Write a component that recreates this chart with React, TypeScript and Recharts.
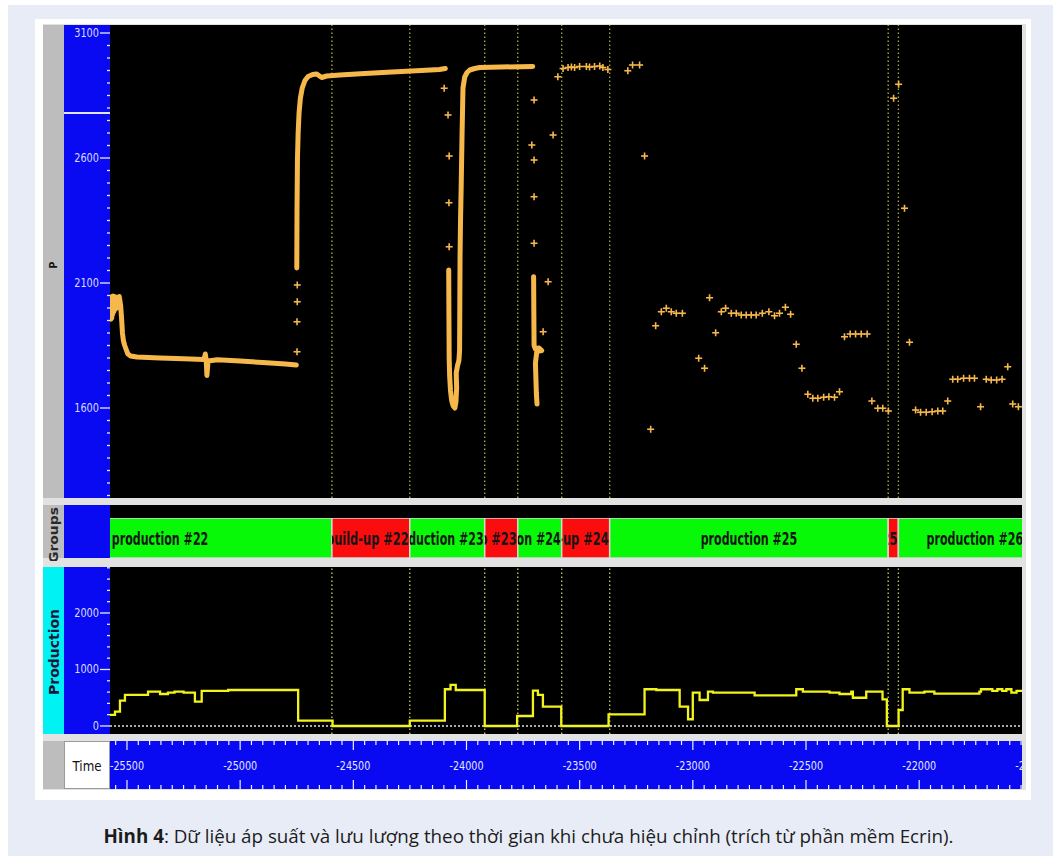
import React from 'react';
import {
  ComposedChart,
  Line,
  Scatter,
  XAxis,
  YAxis,
  ReferenceLine,
  ReferenceArea
} from 'recharts';

// visible time window (hours, relative)
const T_MIN = -25575;
const T_MAX = -21547;
const TIME_EXT = -21400;

const NARROW = "'Liberation Sans Narrow', 'DejaVu Sans Condensed', 'Liberation Sans', 'DejaVu Sans', sans-serif";
const ORANGE = '#f6b84a';
const BLUE = '#0a0af2';

// pressure gauge, densely sampled stretches [t, p]
const pressureProd22 = [
  [-25571, 1955], [-25569, 2044], [-25567, 1960], [-25565, 2046], [-25563, 1975],
  [-25561, 2048], [-25558, 1985], [-25555, 2046], [-25552, 1995], [-25549, 2044],
  [-25546, 2000], [-25543, 2042], [-25540, 2036], [-25534, 2046], [-25528, 2010],
  [-25524, 1960], [-25520, 1900], [-25516, 1870], [-25510, 1850], [-25504, 1835],
  [-25496, 1816], [-25484, 1808], [-25456, 1804], [-25354, 1800], [-25250, 1797],
  [-25160, 1794], [-25154, 1816], [-25150, 1792], [-25147, 1730], [-25142, 1788],
  [-25100, 1793], [-25000, 1788], [-24900, 1782], [-24800, 1776], [-24752, 1772]
];
const pressureBuild22 = [
  [-24750, 2160], [-24749, 2400], [-24747, 2600], [-24744, 2700], [-24740, 2780],
  [-24734, 2840], [-24726, 2880], [-24714, 2910], [-24700, 2926], [-24680, 2934],
  [-24662, 2936], [-24640, 2922], [-24618, 2928], [-24560, 2932], [-24450, 2938],
  [-24330, 2944], [-24200, 2950], [-24120, 2954], [-24094, 2958]
];
const pressureProd23 = [
  [-24079, 2152], [-24078, 1960], [-24077, 1800], [-24075, 1730], [-24071, 1668],
  [-24066, 1630], [-24059, 1608], [-24052, 1600], [-24047, 1625], [-24044, 1680],
  [-24046, 1740], [-24040, 1770], [-24034, 1790], [-24031, 1830], [-24030, 2000],
  [-24029, 2200], [-24027, 2340], [-24024, 2485], [-24020, 2700], [-24016, 2880],
  [-24008, 2925], [-23998, 2942], [-23986, 2952], [-23964, 2958], [-23942, 2962],
  [-23850, 2964], [-23708, 2966]
];
const pressureProd24 = [
  [-23704, 2125], [-23703, 1980], [-23702, 1850], [-23696, 1836], [-23680, 1840],
  [-23668, 1830], [-23690, 1826], [-23696, 1780], [-23694, 1720], [-23692, 1660],
  [-23689, 1616]
];

// pressure gauge, sparse readings [t, p]
const pressureSparse = [
  [-24749, 1825], [-24749, 1945], [-24748, 2025], [-24748, 2092],
  [-24099, 2879], [-24082, 2772], [-24077, 2608], [-24078, 2421], [-24077, 2245],
  [-23702, 2832], [-23712, 2652], [-23702, 2592], [-23702, 2445], [-23702, 2259],
  [-23618, 2692], [-23640, 2105], [-23662, 1905],
  [-23597, 2925], [-23574, 2958], [-23552, 2962], [-23537, 2964], [-23523, 2962],
  [-23501, 2966], [-23471, 2966], [-23457, 2964], [-23435, 2966], [-23412, 2968],
  [-23398, 2962], [-23376, 2954], [-23288, 2949], [-23267, 2972], [-23236, 2972],
  [-23214, 2608],
  [-23187, 1515], [-23165, 1929], [-23140, 1985], [-23118, 1999], [-23096, 1985],
  [-23074, 1979], [-23047, 1979], [-22975, 1799], [-22949, 1759], [-22927, 2041],
  [-22900, 1901], [-22875, 1985], [-22856, 1999], [-22831, 1979], [-22809, 1979],
  [-22787, 1972], [-22765, 1972], [-22743, 1972], [-22721, 1972], [-22694, 1979],
  [-22665, 1985], [-22640, 1969], [-22618, 1979], [-22592, 2003], [-22569, 1975],
  [-22544, 1855], [-22519, 1759], [-22493, 1655], [-22471, 1639], [-22449, 1639],
  [-22423, 1643], [-22400, 1645], [-22375, 1643], [-22353, 1665], [-22331, 1885],
  [-22306, 1896], [-22282, 1896], [-22257, 1896], [-22231, 1896], [-22210, 1628],
  [-22184, 1599], [-22162, 1599], [-22137, 1588], [-22114, 2839], [-22092, 2895],
  [-22066, 2399], [-22044, 1863], [-22017, 1592], [-21995, 1583], [-21970, 1583],
  [-21944, 1585], [-21919, 1588], [-21897, 1588], [-21875, 1628], [-21853, 1715],
  [-21831, 1715], [-21805, 1719], [-21779, 1719], [-21757, 1719], [-21730, 1605],
  [-21705, 1715], [-21683, 1712], [-21659, 1712], [-21635, 1715], [-21610, 1765],
  [-21588, 1616], [-21563, 1605]
];

// rate history, step changes [t, q]
const productionSteps = [
  [-25575, 195], [-25553, 253], [-25531, 448], [-25509, 549], [-25407, 607],
  [-25354, 566], [-25319, 590], [-25290, 607], [-25250, 590], [-25200, 430],
  [-25170, 620], [-25053, 637], [-24744, 94], [-24592, 0], [-24251, 94],
  [-24096, 650], [-24071, 726], [-24048, 637], [-23920, 0], [-23777, 177],
  [-23707, 625], [-23685, 549], [-23663, 342], [-23582, 0], [-23373, 207],
  [-23214, 650], [-23162, 637], [-23059, 342], [-23022, 119], [-23001, 590],
  [-22971, 460], [-22934, 607], [-22912, 589], [-22728, 540], [-22544, 650],
  [-22515, 607], [-22397, 590], [-22353, 566], [-22301, 607], [-22294, 500],
  [-22235, 607], [-22163, 472], [-22144, 0], [-22092, 283], [-22074, 650],
  [-22044, 590], [-21978, 607], [-21934, 572], [-21735, 607], [-21728, 650],
  [-21678, 620], [-21656, 650], [-21634, 620], [-21616, 650], [-21594, 590],
  [-21571, 620], [-21540, 620]
];

// test groups and their boundaries
const groupNames = [
  'production #22', 'build-up #22', 'production #23', 'build-up #23', 'production #24',
  'build-up #24', 'production #25', 'build-up #25', 'production #26'
];
const groupEdges = [-26113, -24595, -24251, -23920, -23774, -23580, -23368, -22138, -22093, -21417];
const boundaries = groupEdges.slice(1, -1);

// axis labels
const pressureLabels = [1600, 2100, 2600, 3100];
const productionLabels = [0, 1000, 2000];
const timeLabels = [-25500, -25000, -24500, -24000, -23500, -23000, -22500, -22000, -21500];

const pressureTicks: number[] = [];
for (let v = 1250; v <= 3100; v += 50) pressureTicks.push(v);
const productionTicks: number[] = [];
for (let v = 0; v <= 2800; v += 200) productionTicks.push(v);
const timeTicks: number[] = [];
for (let v = -25550; v <= TIME_EXT; v += 50) timeTicks.push(v);

const toPoints = (rows: number[][], key: string) => rows.map(([t, v]) => ({ t, [key]: v }));
const pressureSegments = [pressureProd22, pressureBuild22, pressureProd23, pressureProd24].map((s) => toPoints(s, 'p'));
const pressureCrosses = toPoints(pressureSparse, 'p');
const production = toPoints(productionSteps, 'q');
const groupAnchors = groupEdges.map((t) => ({ t, v: 0.5 }));

const timeWidth = Math.round(((TIME_EXT - T_MIN) * 912) / (T_MAX - T_MIN));

const yTick = (labels: number[], minorLen: number) => (props: any) => {
  const { x, y, payload } = props;
  const major = labels.includes(payload.value);
  const txt = String(payload.value);
  return (
    <g>
      <line x1={x - (major ? 10 : minorLen)} x2={x} y1={y} y2={y} stroke="#e4e9ff" strokeWidth={1.3} />
      {major && (
        <text
          x={x - 11}
          y={y + 4}
          textAnchor="end"
          fill="#d5dcfc"
          fontSize={12}
          fontFamily={NARROW}
          textLength={txt.length * 6.2}
          lengthAdjust="spacingAndGlyphs"
        >
          {txt}
        </text>
      )}
    </g>
  );
};

const TimeTick = (props: any) => {
  const { x, y, payload } = props;
  const major = timeLabels.includes(payload.value);
  const len = major ? 9 : 4;
  const top = y - 1;
  const bot = top + 48;
  return (
    <g>
      <line x1={x} x2={x} y1={top} y2={top + len} stroke="#eef1ff" strokeWidth={1.2} />
      <line x1={x} x2={x} y1={bot - len} y2={bot} stroke="#eef1ff" strokeWidth={1.2} />
      {major && (
        <text
          x={x}
          y={top + 29}
          textAnchor="middle"
          fill="#e4e8ff"
          fontSize={12}
          fontFamily={NARROW}
          textLength={34}
          lengthAdjust="spacingAndGlyphs"
        >
          {payload.value}
        </text>
      )}
    </g>
  );
};

const Plus = (props: any) => {
  const { cx, cy } = props;
  return (
    <g stroke={ORANGE} strokeWidth={1.6}>
      <line x1={cx - 3.5} x2={cx + 3.5} y1={cy} y2={cy} />
      <line x1={cx} x2={cx} y1={cy - 3.5} y2={cy + 3.5} />
    </g>
  );
};

const NoDot = () => <g />;

// coloured group block, label centred when it fits, else pinned to the block's right end
const groupShape = (name: string, idx: number) => (props: any) => {
  const { x, y, width, height } = props;
  const fill = name.startsWith('build') ? '#fb0d0d' : '#07f907';
  const textW = name.length * 6.9;
  const fits = textW <= width - 6;
  const id = `grp-clip-${idx}`;
  return (
    <g>
      <defs>
        <clipPath id={id}>
          <rect x={x} y={y} width={width} height={height} />
        </clipPath>
      </defs>
      <rect x={x} y={y} width={width} height={height} fill={fill} stroke="#d6d6d6" strokeWidth={1.5} />
      <g clipPath={`url(#${id})`}>
        <text
          x={fits ? x + width / 2 : x + width - 1}
          y={y + height / 2 + 6.5}
          textAnchor={fits ? 'middle' : 'end'}
          fill="#161616"
          fontSize={18}
          fontWeight="bold"
          fontFamily={NARROW}
          textLength={textW}
          lengthAdjust="spacingAndGlyphs"
        >
          {name}
        </text>
      </g>
    </g>
  );
};

const Box = ({ l, t, w, h, bg, border }: any) => (
  <div style={{ position: 'absolute', left: l, top: t, width: w, height: h, background: bg, boxSizing: 'border-box', border }} />
);

const ZERO = { top: 0, right: 0, bottom: 0, left: 0 };

export default function App() {
  return (
    <div style={{ position: 'absolute', left: 0, top: 0, width: 1057, height: 859, background: '#ffffff', overflow: 'hidden' }}>
      <Box l={8} t={5} w={1045} h={851} bg="#e8ecf6" />
      <Box l={35} t={19} w={996} h={781} bg="#ffffff" />
      <Box l={43} t={24} w={983} h={766} bg="#e2e2e2" />

      {/* pressure panel */}
      <Box l={43} t={25} w={21} h={473} bg="#bdbdbd" />
      <Box l={64} t={25} w={46} h={473} bg={BLUE} />
      <Box l={64} t={112} w={46} h={2} bg="#dfe4ff" />
      <Box l={110} t={25} w={912} h={473} bg="#000000" />

      {/* groups panel */}
      <Box l={43} t={505} w={21} h={53} bg="#bdbdbd" />
      <Box l={64} t={505} w={46} h={53} bg={BLUE} />
      <Box l={110} t={505} w={912} h={53} bg="#000000" />

      {/* production panel */}
      <Box l={43} t={567} w={21} h={167} bg="#00f2f2" />
      <Box l={64} t={567} w={46} h={167} bg={BLUE} />
      <Box l={110} t={567} w={912} h={167} bg="#000000" />

      {/* time panel */}
      <Box l={43} t={741} w={21} h={48} bg="#bdbdbd" />
      <Box l={64} t={741} w={46} h={48} bg="#ffffff" border="1px solid #9a9a9a" />
      <Box l={110} t={741} w={912} h={48} bg={BLUE} />

      <div style={{ position: 'absolute', left: 64, top: 25 }}>
        <ComposedChart width={958} height={473} margin={ZERO}>
          <XAxis type="number" dataKey="t" domain={[T_MIN, T_MAX]} allowDataOverflow hide />
          <YAxis
            type="number"
            dataKey="p"
            domain={[1240, 3132]}
            allowDataOverflow
            width={46}
            ticks={pressureTicks}
            interval={0}
            tickSize={0}
            tickMargin={0}
            axisLine={false}
            tickLine={false}
            tick={yTick(pressureLabels, 3)}
          />
          {boundaries.map((t) => (
            <ReferenceLine key={t} x={t} stroke="#a3a33e" strokeWidth={1.4} strokeDasharray="1.5 2.5" />
          ))}
          {pressureSegments.map((seg, i) => (
            <Line
              key={i}
              data={seg}
              dataKey="p"
              type="linear"
              stroke={ORANGE}
              strokeWidth={5}
              strokeLinejoin="round"
              strokeLinecap="round"
              dot={false}
              isAnimationActive={false}
            />
          ))}
          <Scatter data={pressureCrosses} dataKey="p" shape={Plus} isAnimationActive={false} />
        </ComposedChart>
      </div>

      <div style={{ position: 'absolute', left: 110, top: 518, width: 912, height: 40, overflow: 'hidden' }}>
        <ComposedChart width={912} height={40} margin={ZERO} data={groupAnchors}>
          <XAxis type="number" dataKey="t" domain={[T_MIN, T_MAX]} allowDataOverflow hide />
          <YAxis type="number" dataKey="v" domain={[0, 1]} allowDataOverflow hide />
          <Scatter data={groupAnchors} dataKey="v" shape={NoDot} isAnimationActive={false} />
          {groupNames.map((name, i) => (
            <ReferenceArea
              key={name}
              x1={groupEdges[i]}
              x2={groupEdges[i + 1]}
              y1={0}
              y2={1}
              ifOverflow="visible"
              shape={groupShape(name, i)}
            />
          ))}
        </ComposedChart>
      </div>

      <div style={{ position: 'absolute', left: 64, top: 567 }}>
        <ComposedChart width={958} height={167} margin={ZERO}>
          <XAxis type="number" dataKey="t" domain={[T_MIN, T_MAX]} allowDataOverflow hide />
          <YAxis
            type="number"
            dataKey="q"
            domain={[-142, 2814]}
            allowDataOverflow
            width={46}
            ticks={productionTicks}
            interval={0}
            tickSize={0}
            tickMargin={0}
            axisLine={false}
            tickLine={false}
            tick={yTick(productionLabels, 3)}
          />
          <ReferenceLine y={0} stroke="#e2e2e2" strokeWidth={1.5} strokeDasharray="2 2" />
          {boundaries.map((t) => (
            <ReferenceLine key={t} x={t} stroke="#c2c252" strokeWidth={1.4} strokeDasharray="1.5 2.5" />
          ))}
          <Line
            data={production}
            dataKey="q"
            type="stepAfter"
            stroke="#f3f31c"
            strokeWidth={2.3}
            dot={false}
            isAnimationActive={false}
          />
        </ComposedChart>
      </div>

      <div style={{ position: 'absolute', left: 110, top: 741, width: 912, height: 48, overflow: 'hidden' }}>
        <ComposedChart width={timeWidth} height={48} margin={ZERO} data={timeLabels.map((t) => ({ t }))}>
          <XAxis
            type="number"
            dataKey="t"
            domain={[T_MIN, TIME_EXT]}
            allowDataOverflow
            ticks={timeTicks}
            interval={0}
            height={47}
            tickSize={0}
            tickMargin={0}
            axisLine={false}
            tickLine={false}
            tick={TimeTick}
          />
          <YAxis type="number" domain={[0, 1]} hide />
        </ComposedChart>
      </div>

      {/* panel titles */}
      <svg width={1057} height={859} style={{ position: 'absolute', left: 0, top: 0, pointerEvents: 'none' }}>
        <defs>
          <clipPath id="groups-strip">
            <rect x={43} y={505} width={21} height={56} />
          </clipPath>
        </defs>
        <text transform="translate(57,265) rotate(-90)" textAnchor="middle" fontSize={11} fontWeight="bold" fontFamily={NARROW} fill="#111">
          P
        </text>
        <g clipPath="url(#groups-strip)">
          <text
            transform="translate(58,535) rotate(-90)"
            textAnchor="middle"
            fontSize={13}
            fontWeight="bold"
            fontFamily={NARROW}
            fill="#2a2a2a"
            textLength={56}
            lengthAdjust="spacingAndGlyphs"
          >
            Groups
          </text>
        </g>
        <text
          transform="translate(59,652) rotate(-90)"
          textAnchor="middle"
          fontSize={14}
          fontWeight="bold"
          fontFamily={NARROW}
          fill="#16163a"
          textLength={86}
          lengthAdjust="spacingAndGlyphs"
        >
          Production
        </text>
        <text x={87} y={771} textAnchor="middle" fontSize={14} fontFamily={NARROW} fill="#111" textLength={29} lengthAdjust="spacingAndGlyphs">
          Time
        </text>
      </svg>

      <div
        style={{
          position: 'absolute',
          left: 0,
          top: 823,
          width: 1057,
          textAlign: 'center',
          fontFamily: "'Open Sans', 'Noto Sans', sans-serif",
          fontSize: 18.8,
          lineHeight: '26px',
          color: '#1c1c1c'
        }}
      >
        <b>Hình 4</b>: Dữ liệu áp suất và lưu lượng theo thời gian khi chưa hiệu chỉnh (trích từ phần mềm Ecrin).
      </div>
    </div>
  );
}
